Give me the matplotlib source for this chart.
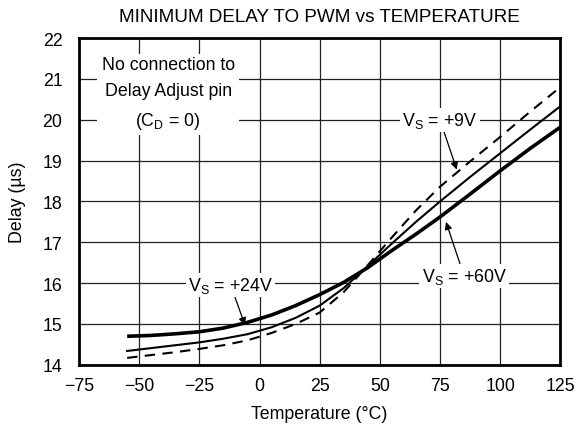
import matplotlib
matplotlib.use("Agg")
import matplotlib.pyplot as plt

plt.rcParams["font.family"] = ["Liberation Sans", "DejaVu Sans"]

temp = [-55, -45, -35, -25, -15, -5, 5, 15, 25, 35, 45, 55, 65, 75, 87.5, 100, 112.5, 125]
vs60 = [14.70, 14.72, 14.76, 14.81, 14.90, 15.04, 15.22, 15.45, 15.72, 16.02, 16.38,
        16.80, 17.20, 17.62, 18.18, 18.75, 19.30, 19.82]
vs24 = [14.34, 14.41, 14.48, 14.55, 14.64, 14.75, 14.92, 15.15, 15.45, 15.88, 16.42,
        16.97, 17.50, 18.00, 18.60, 19.18, 19.76, 20.33]
vs9 = [14.17, 14.24, 14.31, 14.39, 14.48, 14.60, 14.78, 15.00, 15.28, 15.78, 16.44,
       17.12, 17.78, 18.36, 18.98, 19.58, 20.20, 20.80]

xticks = [-75, -50, -25, 0, 25, 50, 75, 100, 125]
yticks = [14, 15, 16, 17, 18, 19, 20, 21, 22]

FS = 12.8

fig = plt.figure(figsize=(5.77, 4.35), dpi=100)
ax = fig.add_axes([0.137, 0.159, 0.834, 0.751])

ax.plot(temp, vs60, color="black", lw=2.6, solid_capstyle="butt", zorder=3)
ax.plot(temp, vs24, color="black", lw=1.5, zorder=3)
ax.plot(temp, vs9, color="black", lw=1.5, dashes=(5, 3.5), zorder=3)

ax.set_xlim(-75, 125)
ax.set_ylim(14, 22)
ax.set_xticks(xticks)
ax.set_xticklabels(["\u2212%d" % -t if t < 0 else str(t) for t in xticks])
ax.set_yticks(yticks)
ax.tick_params(length=0, labelsize=FS)
ax.tick_params(axis="y", pad=12)
ax.tick_params(axis="x", pad=9)
ax.grid(True, color="#222222", lw=0.9)
ax.set_axisbelow(True)
for s in ax.spines.values():
    s.set_linewidth(2)

ax.set_xlabel("Temperature (\u00b0C)", fontsize=FS, labelpad=8)
ax.set_ylabel("Delay (\u00b5s)", fontsize=FS, labelpad=12)
ax.set_title("MINIMUM DELAY TO PWM vs TEMPERATURE", fontsize=13.6, pad=12)

box = dict(facecolor="white", edgecolor="none", pad=1.5)
ax.text(-38, 20.65, "No connection to\nDelay Adjust pin\n(C$_\\mathregular{D}$ = 0)",
        ha="center", va="center", fontsize=FS, linespacing=1.7,
        bbox=dict(facecolor="white", edgecolor="none", pad=3), zorder=4)

arrow = dict(arrowstyle="-|>", color="black", lw=0.9, mutation_scale=11,
             shrinkA=0, shrinkB=0)
ax.annotate("V$_\\mathregular{S}$ = +24V", xy=(-6, 14.97), xytext=(-12, 15.95),
            ha="center", va="center", fontsize=FS, bbox=box,
            arrowprops=arrow, zorder=4)
ax.annotate("V$_\\mathregular{S}$ = +9V", xy=(82, 18.78), xytext=(75, 20.0),
            ha="center", va="center", fontsize=FS, bbox=box,
            arrowprops=arrow, zorder=4)
ax.annotate("V$_\\mathregular{S}$ = +60V", xy=(77.5, 17.5), xytext=(85, 16.18),
            ha="center", va="center", fontsize=FS, bbox=box,
            arrowprops=arrow, zorder=4)

fig.savefig("out.png", dpi=100)
